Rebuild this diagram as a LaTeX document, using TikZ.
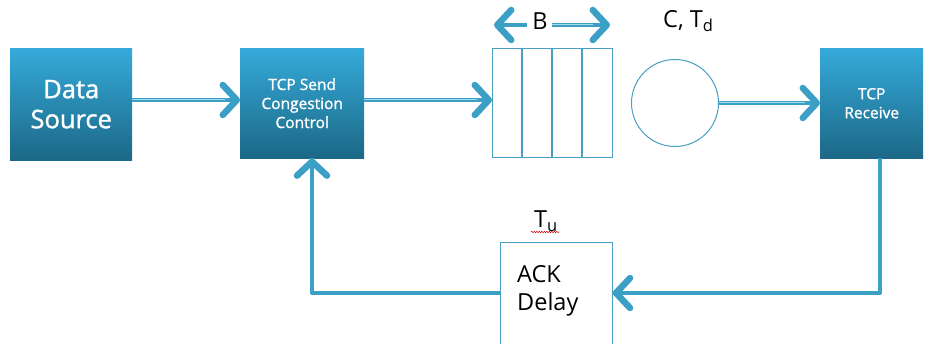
\documentclass[tikz,border=0pt]{standalone}
\usepackage{fontspec}
\setmainfont{Open Sans}
\newfontfamily\boxfont[FakeBold=1.3]{Open Sans}
\usetikzlibrary{arrows.meta,decorations.pathmorphing}
\definecolor{boxtop}{HTML}{35AADA}
\definecolor{boxbot}{HTML}{1C6886}
\definecolor{flow}{HTML}{3B9FC6}
\definecolor{flowlight}{HTML}{A4D8EA}
\definecolor{outline}{HTML}{4A9FC0}
\tikzset{
  x=1pt, y=-1pt,
  bluebox/.style={rectangle, top color=boxtop, bottom color=boxbot, draw=none,
    text=white, align=center, inner sep=0pt, anchor=north west},
  plainbox/.style={rectangle, draw=outline, line width=0.8pt, fill=white, inner sep=0pt, anchor=north west},
  flowarrow/.style={draw=flow, line width=4.8pt,
    -{Straight Barb[round,length=14pt,width=30pt,line width=6.5pt]}},
  flowline/.style={draw=flow, line width=4.8pt, line join=round},
  shine/.style={draw=flowlight, line width=1pt},
  lbl/.style={font=\fontsize{23.5}{28}\selectfont, text=black, inner sep=0pt},
}
\begin{document}
\begin{tikzpicture}
\useasboundingbox (0,0) rectangle (933,344);

% blue process boxes
\node[bluebox, minimum width=122pt, minimum height=112pt,
  font=\boxfont\fontsize{25.5}{30}\selectfont] (src) at (10,48) {Data\\Source};
\node[bluebox, minimum width=124pt, minimum height=110pt,
  font=\boxfont\fontsize{15.5}{19}\selectfont] (send) at (240,48) {TCP Send\\Congestion\\Control};
\node[bluebox, minimum width=103pt, minimum height=110pt,
  font=\boxfont\fontsize{15.5}{19}\selectfont] (recv) at (820,48) {TCP\\Receive};

% buffer with four slots
\node[plainbox, minimum width=120pt, minimum height=109pt] (buf) at (492,48) {};
\foreach \xx in {522,552,582} \draw[outline, line width=1.6pt] (\xx,48) -- (\xx,157);

% link server
\node[circle, draw=outline, line width=1pt, minimum size=87pt, inner sep=0pt] (srv) at (675,103) {};

% ACK delay element
\node[plainbox, minimum width=112pt, minimum height=102pt] (ack) at (500,242) {};
\node[lbl, align=left, anchor=west] (acktxt) at (517,291) {ACK\\Delay};

% labels
\node[lbl] (blbl) at (540,21) {B};
\node[lbl, anchor=west] (clbl) at (663,21) {C, T\textsubscript{d}};
\node[lbl, anchor=base] (tu) at (546,228) {T\textsubscript{u}};
\draw[red!85!black, line width=0.45pt, decorate,
  decoration={snake, amplitude=0.8pt, segment length=2.5pt}]
  (531,232) -- (560,232);

% forward path
\draw[flowarrow] (src.east |- 0,100) -- (send.west |- 0,100);
\draw[shine] (src.east |- 0,100) -- ([xshift=-15pt]send.west |- 0,100);
\draw[flowarrow] (send.east |- 0,100) -- (buf.west |- 0,100);
\draw[shine] (send.east |- 0,100) -- ([xshift=-15pt]buf.west |- 0,100);
\draw[flowarrow] (srv.east) -- (recv.west |- srv.east);
\draw[shine] (srv.east) -- ([xshift=-15pt]recv.west |- srv.east);

% buffer size arrows
\coordinate (bl) at (494,25);
\coordinate (br) at (610,25);
\draw[flowarrow] (527,25) -- (bl);
\draw[flowarrow] (552,25) -- (br);
\draw[shine] (552,25) -- (593,25);

% return path
\coordinate (rc) at (880,293);
\coordinate (lc) at (312,293);
\draw[flowline] (recv.south -| rc) -- (rc) -- (ack.east |- rc);
\draw[flowarrow] (rc) -- (ack.east |- rc);
\draw[flowline] (ack.west |- lc) -- (lc) -- (send.south -| lc);
\draw[flowarrow] (lc) -- (send.south -| lc);
\end{tikzpicture}
\end{document}
